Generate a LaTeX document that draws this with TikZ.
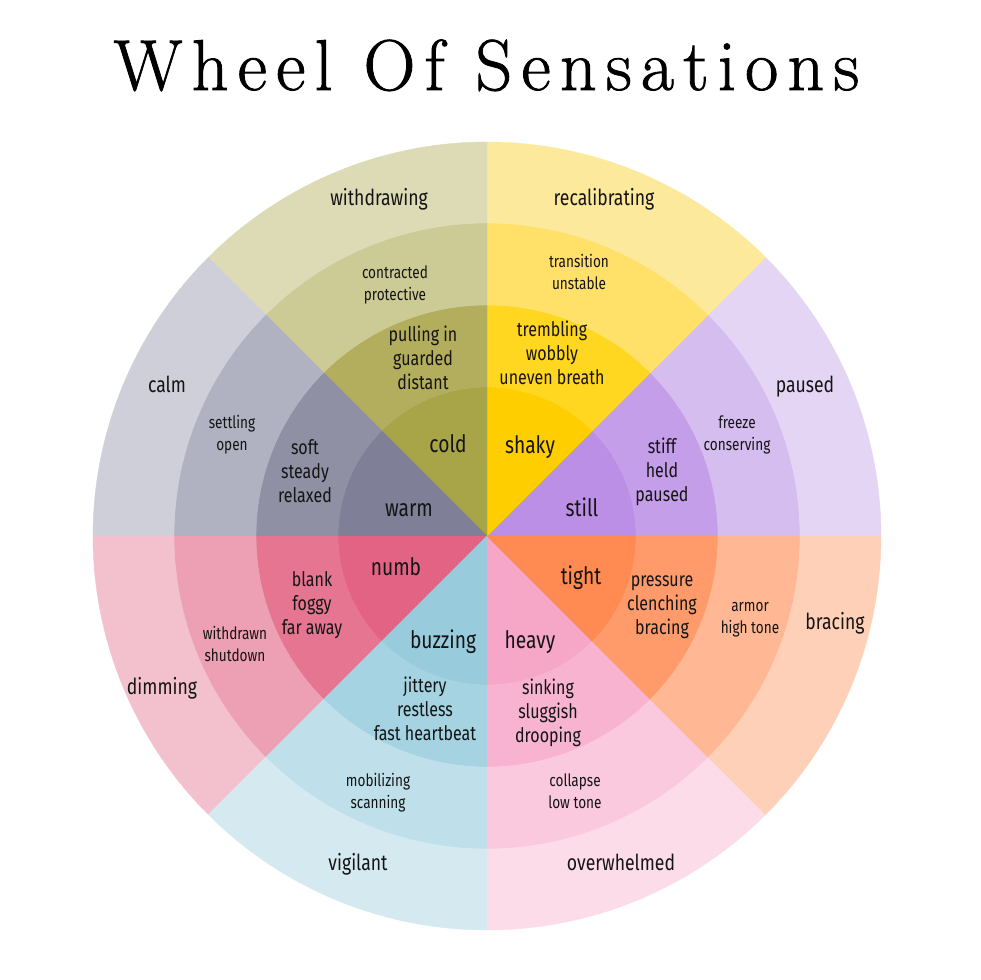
\documentclass[tikz,border=0pt]{standalone}
\usepackage{fontspec}
\usetikzlibrary{calc}
\newfontfamily\labfont[FakeStretch=0.8]{Fira Sans}
\newfontfamily\titlefont[LetterSpace=12.8,FakeBold=1.2]{Latin Modern Roman}
\definecolor{ink}{HTML}{141414}
% olive
\definecolor{OA}{HTML}{A8A448}\definecolor{OB}{HTML}{B3AE5E}\definecolor{OC}{HTML}{CCCB95}\definecolor{OD}{HTML}{DCDBB5}
% grey
\definecolor{GA}{HTML}{7F8098}\definecolor{GB}{HTML}{8F90A4}\definecolor{GC}{HTML}{B0B1C1}\definecolor{GD}{HTML}{CFCFD9}
% yellow
\definecolor{YA}{HTML}{FFCE00}\definecolor{YB}{HTML}{FFD620}\definecolor{YC}{HTML}{FFE16A}\definecolor{YD}{HTML}{FDE99B}
% purple
\definecolor{PA}{HTML}{BC8FE6}\definecolor{PB}{HTML}{C59EE9}\definecolor{PC}{HTML}{D6BDF0}\definecolor{PD}{HTML}{E4D5F4}
% orange
\definecolor{RA}{HTML}{FF8A52}\definecolor{RB}{HTML}{FF9B6A}\definecolor{RC}{HTML}{FFB893}\definecolor{RD}{HTML}{FFD0B8}
% pink (heavy)
\definecolor{KA}{HTML}{F6A6C7}\definecolor{KB}{HTML}{F7B3CF}\definecolor{KC}{HTML}{FAC9DD}\definecolor{KD}{HTML}{FCDCE8}
% blue
\definecolor{BA}{HTML}{98CCDD}\definecolor{BB}{HTML}{A6D3E1}\definecolor{BC}{HTML}{BFE0EA}\definecolor{BD}{HTML}{D5E9F0}
% red-pink (numb)
\definecolor{NA}{HTML}{E26383}\definecolor{NB}{HTML}{E67592}\definecolor{NC}{HTML}{EDA0B3}\definecolor{ND}{HTML}{F3C1CE}

\newcommand\wheelsector[5]{%
  \fill[#2,draw=#2,line width=0.4pt] (c) -- ($(c)+(-#1:149)$) arc[start angle=-#1,end angle=-#1-45,radius=149] -- cycle;
  \fill[#3,draw=#3,line width=0.4pt] ($(c)+(-#1:149)$) arc[start angle=-#1,end angle=-#1-45,radius=149]
     -- ($(c)+(-#1-45:231)$) arc[start angle=-#1-45,end angle=-#1,radius=231] -- cycle;
  \fill[#4,draw=#4,line width=0.4pt] ($(c)+(-#1:231)$) arc[start angle=-#1,end angle=-#1-45,radius=231]
     -- ($(c)+(-#1-45:313)$) arc[start angle=-#1-45,end angle=-#1,radius=313] -- cycle;
  \fill[#5,draw=#5,line width=0.4pt] ($(c)+(-#1:313)$) arc[start angle=-#1,end angle=-#1-45,radius=313]
     -- ($(c)+(-#1-45:394)$) arc[start angle=-#1-45,end angle=-#1,radius=394] -- cycle;
}

\tikzset{
  lbl/.style={align=center, inner sep=0pt, text=ink},
  ringA/.style={lbl, font=\labfont\fontsize{24}{29}\selectfont},
  ringB/.style={lbl, font=\labfont\fontsize{20}{24}\selectfont},
  ringC/.style={lbl, font=\labfont\fontsize{17}{22}\selectfont},
  ringD/.style={lbl, font=\labfont\fontsize{22}{26}\selectfont},
  titlestyle/.style={inner sep=0pt, anchor=base, text=black, font=\titlefont\fontsize{72}{80}\selectfont}
}

\begin{document}
\begin{tikzpicture}[x=1pt,y=-1pt]
\useasboundingbox (0,0) rectangle (980,980);
\fill[white] (0,0) rectangle (980,980);
\coordinate (c) at (487,536);

\wheelsector{0}{PA}{PB}{PC}{PD}
\wheelsector{45}{YA}{YB}{YC}{YD}
\wheelsector{90}{OA}{OB}{OC}{OD}
\wheelsector{135}{GA}{GB}{GC}{GD}
\wheelsector{180}{NA}{NB}{NC}{ND}
\wheelsector{225}{BA}{BB}{BC}{BD}
\wheelsector{270}{KA}{KB}{KC}{KD}
\wheelsector{315}{RA}{RB}{RC}{RD}

\node[titlestyle] (title) at (486.5,90) {Wheel Of Sensations};

% inner ring
\node[ringA] (cold)    at (448,447) {\strut cold};
\node[ringA] (shaky)   at (530,448) {\strut shaky};
\node[ringA] (still)   at (582,511) {\strut still};
\node[ringA] (tight)   at (581,579) {\strut tight};
\node[ringA] (heavy)   at (530,643) {\strut heavy};
\node[ringA] (buzzing) at (443,643) {\strut buzzing};
\node[ringA] (numb)    at (396,570) {\strut numb};
\node[ringA] (warm)    at (409,511) {\strut warm};

% second ring
\node[ringB] (guarded)  at (423,361) {\strut pulling in\\\strut guarded\\\strut distant};
\node[ringB] (wobbly)   at (552,356) {\strut trembling\\\strut wobbly\\\strut uneven breath};
\node[ringB] (held)     at (662,473) {\strut stiff\\\strut held\\\strut paused};
\node[ringB] (clench)   at (662,606) {\strut pressure\\\strut clenching\\\strut bracing};
\node[ringB] (sluggish) at (548,714) {\strut sinking\\\strut sluggish\\\strut drooping};
\node[ringB] (restless) at (425,712) {\strut jittery\\\strut restless\\\strut fast heartbeat};
\node[ringB] (foggy)    at (312,606) {\strut blank\\\strut foggy\\\strut far away};
\node[ringB] (steady)   at (305,474) {\strut soft\\\strut steady\\\strut relaxed};

% third ring
\node[ringC] (contracted) at (395,285) {\strut contracted\\\strut protective};
\node[ringC] (transition) at (579,274) {\strut transition\\\strut unstable};
\node[ringC] (freeze)     at (737,435) {\strut freeze\\\strut conserving};
\node[ringC] (armor)      at (750,618) {\strut armor\\\strut high tone};
\node[ringC] (collapse)   at (575,793) {\strut collapse\\\strut low tone};
\node[ringC] (mobilizing) at (378,793) {\strut mobilizing\\\strut scanning};
\node[ringC] (withdrawn)  at (235,646) {\strut withdrawn\\\strut shutdown};
\node[ringC] (settling)   at (232,435) {\strut settling\\\strut open};

% outer ring
\node[ringD] (withdrawing)   at (379,200) {\strut withdrawing};
\node[ringD] (recalibrating) at (604,200) {\strut recalibrating};
\node[ringD] (paused)        at (805,387) {\strut paused};
\node[ringD] (bracing)       at (835,624) {\strut bracing};
\node[ringD] (overwhelmed)   at (621,865) {\strut overwhelmed};
\node[ringD] (vigilant)      at (358,865) {\strut vigilant};
\node[ringD] (dimming)       at (162,689) {\strut dimming};
\node[ringD] (calm)          at (167,387) {\strut calm};
\end{tikzpicture}
\end{document}
